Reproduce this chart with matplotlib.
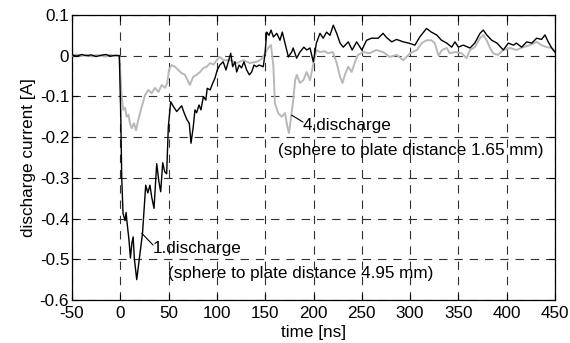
import matplotlib
matplotlib.use("Agg")
import matplotlib.pyplot as plt

plt.rcParams['font.family'] = ['Liberation Sans', 'DejaVu Sans']
plt.rcParams['lines.scale_dashes'] = False

# ---- data: 1. discharge (black) ----
t1 = [-50, -45, -40, -35, -30, -25, -20, -15, -10, -5, -1,
      0.5, 1.5, 2.8, 4.9, 6, 7, 9, 10.5, 12, 13.3, 14.5, 17, 20.4, 23, 26.3, 28.5,
      30.7, 32.5, 34.9, 37.7, 40, 41.8, 43.9, 46, 48, 49.7, 52.2, 55, 58.4, 61,
      63.5, 66, 69, 71.4, 73.2, 75.5, 77.3, 79, 81.5, 83.5, 86, 88.5, 90, 93,
      95.6, 98, 100.4, 103, 106.5, 109.4, 111.8, 114.3, 116.3, 118.7, 120.5, 123,
      125.5, 128, 130.8, 133.6, 136, 138.4, 141, 143.8, 148, 149.7, 151.6, 154,
      156, 158.5, 162, 165.3, 167.7, 170.5, 174, 177.4, 179, 182.5, 186, 190,
      193, 196.4, 199.8, 203, 206.7, 210, 213.6, 217, 220.5, 224, 227.5, 230.8,
      236, 240, 244.7, 250, 255, 260, 267, 272, 275.5, 281, 286, 293, 298.5, 305,
      310, 317, 322, 327.5, 332.5, 338, 343, 346.5, 350, 355, 362, 367, 372.4,
      375.8, 379.3, 384.5, 390, 396.5, 401.7, 407, 410, 415.5, 420.7, 426, 431,
      436, 439.6, 443, 446.6, 450]
i1 = [0.002, -0.001, 0.003, 0.0, 0.002, -0.002, 0.001, 0.003, -0.001, 0.001, 0.0,
      -0.15, -0.3, -0.387, -0.405, -0.385, -0.41, -0.453, -0.497, -0.46, -0.445,
      -0.497, -0.55, -0.485, -0.436, -0.318, -0.337, -0.318, -0.347, -0.375,
      -0.265, -0.31, -0.334, -0.263, -0.285, -0.29, -0.175, -0.113, -0.125,
      -0.137, -0.13, -0.123, -0.14, -0.157, -0.166, -0.215, -0.175, -0.133,
      -0.14, -0.121, -0.133, -0.1, -0.109, -0.08, -0.084, -0.068, -0.055,
      -0.035, -0.023, -0.015, -0.035, -0.015, 0.006, -0.027, -0.015, -0.04,
      -0.023, -0.03, -0.015, -0.035, -0.047, -0.04, -0.023, -0.027, -0.023,
      -0.027, 0.002, 0.058, 0.05, 0.063, 0.046, 0.055, 0.038, 0.058, 0.031,
      -0.003, 0.009, 0.019, -0.006, 0.009, 0.021, 0.014, 0.019, -0.015, 0.031,
      0.055, 0.043, 0.058, 0.05, 0.075, 0.055, 0.031, 0.021, 0.034, 0.014,
      0.034, 0.014, 0.038, 0.043, 0.043, 0.055, 0.045, 0.034, 0.04, 0.034,
      0.031, 0.026, 0.046, 0.067, 0.058, 0.051, 0.038, 0.031, 0.021, 0.034,
      0.021, 0.026, 0.019, 0.031, 0.055, 0.063, 0.051, 0.038, 0.031, 0.014,
      0.031, 0.026, 0.031, 0.021, 0.034, 0.031, 0.043, 0.04, 0.051, 0.034,
      0.019, 0.009]

# ---- data: 4. discharge (grey) ----
t4 = [-50, -45, -40, -35, -30, -25, -20, -15, -10, -5, -1,
      0, 1.4, 3.1, 5, 6.6, 8.5, 10, 11.8, 14.2, 16.3, 18.6, 22.2, 25.6, 29, 32.5,
      35.9, 39.5, 42.9, 46.3, 48.7, 50.4, 53, 56.5, 60, 63.5, 67, 72, 75.5, 79,
      82.5, 86, 89.5, 93, 96.5, 99.8, 103, 106.8, 113.7, 120.5, 127.4, 134, 141,
      146.4, 150, 153.6, 156, 158.5, 160, 163.5, 167, 170.5, 173, 174.6, 176.4,
      179, 181, 182.7, 186, 189.5, 193, 196.4, 200, 203, 206.5, 211.5, 215, 220,
      224, 227.5, 230, 232.5, 236, 239.5, 243, 246, 251.5, 258, 265, 272, 279,
      286, 293, 300, 307, 312, 317, 322, 325.5, 329.5, 333, 338, 341, 346.5,
      353.4, 358.5, 362, 367, 372.4, 375.8, 379.3, 382.7, 386, 391, 396.5,
      403.5, 410, 417, 424, 431, 436, 441.5, 446.6, 450]
i4 = [0.0, 0.003, -0.001, 0.002, -0.002, 0.002, 0.0, -0.002, 0.002, -0.001, 0.001,
      -0.043, -0.1, -0.133, -0.128, -0.15, -0.145, -0.166, -0.178, -0.166,
      -0.183, -0.158, -0.125, -0.097, -0.084, -0.092, -0.079, -0.089, -0.072,
      -0.079, -0.067, -0.035, -0.023, -0.027, -0.035, -0.043, -0.047, -0.072,
      -0.052, -0.047, -0.04, -0.03, -0.027, -0.018, -0.022, -0.011, -0.003,
      -0.011, -0.011, -0.018, -0.011, -0.018, -0.015, -0.008, 0.006, 0.021,
      0.026, -0.027, -0.117, -0.141, -0.15, -0.141, -0.175, -0.19, -0.158,
      -0.109, -0.06, -0.047, -0.067, -0.06, -0.04, -0.06, -0.018, 0.014, 0.009,
      0.011, 0.006, 0.009, -0.018, -0.052, -0.067, -0.047, -0.027, -0.04,
      -0.015, 0.002, 0.009, 0.006, 0.014, 0.009, -0.003, 0.002, -0.011, 0.006,
      0.014, 0.031, 0.038, 0.038, 0.031, 0.0, 0.014, 0.019, 0.006, 0.009,
      0.006, -0.006, 0.014, 0.021, 0.043, 0.051, 0.038, 0.019, 0.006, 0.002,
      0.014, 0.019, 0.014, 0.021, 0.026, 0.034, 0.026, 0.021, 0.019, 0.009]

xticks = [-50, 0, 50, 100, 150, 200, 250, 300, 350, 400, 450]
xticklabels = ['-50', '0', '50', '100', '150', '200', '250', '300', '350', '400', '450']
yticks = [-0.6, -0.5, -0.4, -0.3, -0.2, -0.1, 0, 0.1]
yticklabels = ['-0.6', '-0.5', '-0.4', '-0.3', '-0.2', '-0.1', '0', '0.1']

fs = 12.3
fig = plt.figure(figsize=(5.7, 3.43), dpi=100)
ax = fig.add_axes([72 / 570, 43 / 343, 483 / 570, 285 / 343])

ax.plot(t4, i4, color='#b8b8b8', lw=1.4, zorder=3)
ax.plot(t1, i1, color='black', lw=1.0, zorder=4)

ax.set_xlim(-50, 450)
ax.set_ylim(-0.6, 0.1)
ax.set_xticks(xticks)
ax.set_xticklabels(xticklabels, fontsize=fs)
ax.set_yticks(yticks)
ax.set_yticklabels(yticklabels, fontsize=fs)
ax.tick_params(direction='in', length=4, width=0.8, top=True, right=True, pad=2)
ax.tick_params(axis='x', pad=4)
ax.grid(True, color='#303030', lw=0.8, linestyle=(0, (6, 5)))
for s in ax.spines.values():
    s.set_linewidth(0.9)

ax.set_xlabel('time [ns]', fontsize=fs, labelpad=3)
ax.set_ylabel('discharge current [A]', fontsize=fs, labelpad=3)

ax.annotate('', xy=(22.2, -0.436), xytext=(33.9, -0.465),
            arrowprops=dict(arrowstyle='-', color='black', lw=0.8, shrinkA=0, shrinkB=0), zorder=5)
ax.text(33.9, -0.4835, '1.discharge', fontsize=fs, va='baseline', ha='left', zorder=5)
ax.text(49.4, -0.546, '(sphere to plate distance 4.95 mm)', fontsize=fs, va='baseline', ha='left', zorder=5)

ax.annotate('', xy=(177.4, -0.146), xytext=(189.1, -0.163),
            arrowprops=dict(arrowstyle='-', color='black', lw=0.8, shrinkA=0, shrinkB=0), zorder=5)
ax.text(189.1, -0.183, '4.discharge', fontsize=fs, va='baseline', ha='left', zorder=5)
ax.text(163.2, -0.244, '(sphere to plate distance 1.65 mm)', fontsize=fs, va='baseline', ha='left', zorder=5)

fig.savefig('out.png', dpi=100)
